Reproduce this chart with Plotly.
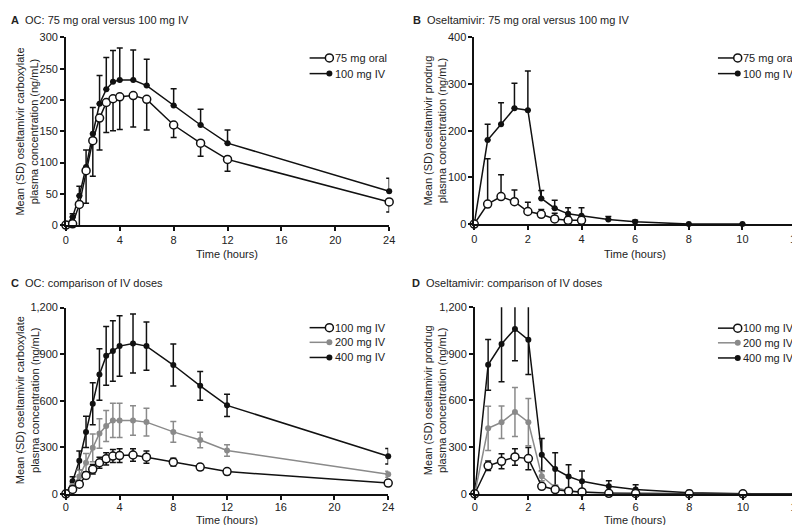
import plotly.graph_objects as go

# ---------------- data ----------------
t_A = [0, 0.5, 1, 1.5, 2, 2.5, 3, 3.5, 4, 5, 6, 8, 10, 12, 24]
A_oral = [0, 2, 33, 87, 135, 171, 196, 202, 205, 207, 201, 160, 131, 105, 37]
A_oral_sd = [0, 3, 40, 52, 57, 51, 48, 51, 52, 50, 49, 20, 21, 19, 16]
A_iv = [0, 13, 47, 93, 146, 194, 217, 229, 232, 232, 223, 191, 160, 131, 54]
A_iv_sd = [0, 5, 15, 27, 42, 45, 51, 50, 51, 48, 42, 27, 25, 21, 21]

t_B_oral = [0, 0.5, 1, 1.5, 2, 2.5, 3, 3.5, 4]
B_oral = [0, 43, 59, 48, 27, 21, 11, 8, 8]
B_oral_sd = [0, 97, 47, 25, 20, 10, 12, 8, 6]
t_B_iv = [0, 0.5, 1, 1.5, 2, 2.5, 3, 3.5, 4, 5, 6, 8, 10]
B_iv = [0, 180, 214, 248, 244, 55, 34, 22, 18, 10, 5, 0, 0]
B_iv_sd = [0, 34, 46, 54, 84, 17, 17, 13, 17, 6, 3, 0, 0]

t_C = [0, 0.5, 1, 1.5, 2, 2.5, 3, 3.5, 4, 5, 6, 8, 10, 12, 24]
C_100 = [0, 28, 62, 118, 158, 200, 225, 243, 246, 250, 236, 204, 172, 143, 69]
C_100_sd = [0, 10, 15, 20, 30, 35, 40, 42, 45, 40, 40, 25, 20, 18, 18]
C_200 = [0, 50, 111, 200, 296, 389, 437, 473, 473, 473, 462, 399, 347, 279, 126]
C_200_sd = [0, 15, 40, 60, 90, 95, 100, 110, 110, 95, 90, 67, 50, 37, 20]
C_400 = [0, 80, 213, 399, 580, 769, 889, 920, 952, 969, 952, 830, 696, 570, 242]
C_400_sd = [0, 30, 62, 100, 135, 166, 190, 195, 195, 190, 155, 135, 93, 72, 50]

t_D = [0, 0.5, 1, 1.5, 2, 2.5, 3, 3.5, 4, 5, 6, 8, 10, 12]
D_100 = [0, 180, 209, 237, 226, 48, 27, 17, 12, 3, 2, 0, 0, 0]
D_100_sd = [0, 31, 48, 53, 71, 12, 8, 6, 5, 2, 2, 0, 0, 0]
D_200 = [0, 421, 460, 526, 460, 113, 40, 20, 10, 5, 3, 0, 0, 0]
D_200_sd = [0, 142, 104, 157, 152, 30, 15, 8, 5, 3, 2, 0, 0, 0]
D_400 = [0, 829, 963, 1060, 990, 251, 159, 111, 80, 48, 27, 6, 0, 0]
D_400_sd = [0, 163, 243, 205, 223, 105, 105, 75, 66, 36, 31, 15, 0, 0]

panel_titles = ["OC: 75 mg oral versus 100 mg IV",
                "Oseltamivir: 75 mg oral versus 100 mg IV",
                "OC: comparison of IV doses",
                "Oseltamivir: comparison of IV doses"]
panel_letters = ["A", "B", "C", "D"]
ytitles = ["Mean (SD) oseltamivir carboxylate<br>plasma concentration (ng/mL)",
           "Mean (SD) oseltamivir prodrug<br>plasma concentration (ng/mL)",
           "Mean (SD) oseltamivir carboxylate<br>plasma concentration (ng/mL)",
           "Mean (SD) oseltamivir prodrug<br>plasma concentration (ng/mL)"]
xtitle = "Time (hours)"

# ---------------- style ----------------
W, H = 800, 525
FONT = "Arial, Liberation Sans, Helvetica, sans-serif"
TXT = "#222222"
BLACK = "#111111"
GRAY = "#8a8a8a"


def px(x):
    return x / W


def py(y):
    return 1 - y / H


def nz(v):
    return [s if s else None for s in v]


fig = go.Figure()


def add_series(t, y, up, down, ax, kind, color):
    if kind == "open":
        marker = dict(symbol="circle", size=8, color="white",
                      line=dict(color=color, width=1.5))
    else:
        marker = dict(symbol="circle", size=6, color=color,
                      line=dict(color=color, width=0))
    err = dict(type="data", symmetric=False,
               array=nz(up) if up is not None else [None] * len(t),
               arrayminus=nz(down) if down is not None else [None] * len(t),
               thickness=1.5, width=3, color=color, visible=True)
    fig.add_trace(go.Scatter(
        x=t, y=y, mode="lines+markers", line=dict(color=color, width=1.5),
        marker=marker, error_y=err, cliponaxis=False, showlegend=False,
        xaxis="x" + ax, yaxis="y" + ax, hoverinfo="skip"))


# panel A (IV upward, oral downward)
add_series(t_A, A_iv, A_iv_sd, None, "", "filled", BLACK)
add_series(t_A, A_oral, None, A_oral_sd, "", "open", BLACK)
# panel B
add_series(t_B_iv, B_iv, B_iv_sd, None, "2", "filled", BLACK)
add_series(t_B_oral, B_oral, B_oral_sd, None, "2", "open", BLACK)
# panel C
add_series(t_C, C_400, C_400_sd, C_400_sd, "3", "filled", BLACK)
add_series(t_C, C_200, C_200_sd, C_200_sd, "3", "filled", GRAY)
add_series(t_C, C_100, C_100_sd, C_100_sd, "3", "open", BLACK)
# panel D
add_series(t_D, D_400, D_400_sd, D_400_sd, "4", "filled", BLACK)
add_series(t_D, D_200, D_200_sd, D_200_sd, "4", "filled", GRAY)
add_series(t_D, D_100, D_100_sd, D_100_sd, "4", "open", BLACK)

# axes geometry (pixels)
panels = [
    dict(x0=55.5, x1=382.5, y0=24, y1=216, xr=[0, 24], xt=[0, 4, 8, 12, 16, 20, 24],
         yr=[0, 300], yt=[0, 50, 100, 150, 200, 250, 300], so=0),
    dict(x0=468.5, x1=794, y0=24, y1=215, xr=[0, 12], xt=[0, 2, 4, 6, 8, 10, 12],
         yr=[0, 400], yt=[0, 100, 200, 300, 400], so=0),
    dict(x0=55.5, x1=381.5, y0=300.5, y1=491, xr=[0, 24], xt=[0, 4, 8, 12, 16, 20, 24],
         yr=[0, 1200], yt=[0, 300, 600, 900, 1200], so=-2),
    dict(x0=469, x1=794.5, y0=300, y1=491, xr=[0, 12], xt=[0, 2, 4, 6, 8, 10, 12],
         yr=[0, 1200], yt=[0, 300, 600, 900, 1200], so=-2),
]

axcommon = dict(showline=True, linewidth=1.5, linecolor=BLACK, showgrid=False,
                zeroline=False, ticks="outside", ticklen=4, tickwidth=1.5,
                tickcolor=BLACK, tickfont=dict(family=FONT, size=11, color=TXT),
                fixedrange=True)

layout_axes = {}
for i, p in enumerate(panels):
    s = "" if i == 0 else str(i + 1)
    layout_axes["xaxis" + s] = dict(axcommon, domain=[px(p["x0"]), px(p["x1"])],
                                    range=p["xr"], tickvals=p["xt"],
                                    ticklabelstandoff=p["so"],
                                    anchor="y" + s)
    layout_axes["yaxis" + s] = dict(axcommon, domain=[py(p["y1"]), py(p["y0"])],
                                    range=p["yr"], tickvals=p["yt"],
                                    tickformat=",", anchor="x" + s)

annotations = []
shapes = []

TP = 4  # annotation internal padding (textpad + borderpad)

# panel titles
title_pos = [(2, 6), (409, 6), (2, 275), (408, 275)]
for (x, y), L, T in zip(title_pos, panel_letters, panel_titles):
    annotations.append(dict(text="<b>" + L + "</b>  " + T, x=px(x - TP), y=py(y),
                            xref="paper", yref="paper", xanchor="left",
                            yanchor="middle", showarrow=False,
                            font=dict(family=FONT, size=11, color=TXT)))

# x titles
xt_pos = [(218.5, 246), (631, 246), (218, 517.5), (631.5, 517.5)]
for x, y in xt_pos:
    annotations.append(dict(text=xtitle, x=px(x), y=py(y), xref="paper",
                            yref="paper", xanchor="center", yanchor="middle",
                            showarrow=False, borderpad=0,
                            font=dict(family=FONT, size=11, color=TXT)))

# y titles
yt_pos = [(16.5, 120), (429, 119), (16.5, 395), (429, 395)]
for (x, y), T in zip(yt_pos, ytitles):
    annotations.append(dict(text=T, x=px(x), y=py(y), xref="paper",
                            yref="paper", xanchor="center", yanchor="middle",
                            textangle=-90, showarrow=False,
                            font=dict(family=FONT, size=11, color=TXT)))

# legends (line sample with marker at right end)
legend_labels_AB = ["75 mg oral", "100 mg IV"]
legend_labels_CD = ["100 mg IV", "200 mg IV", "400 mg IV"]
leg_AB_style = [("open", BLACK), ("filled", BLACK)]
leg_CD_style = [("open", BLACK), ("filled", GRAY), ("filled", BLACK)]


def add_legend(xstart, rows, labels, styles):
    for y, lab, (kind, col) in zip(rows, labels, styles):
        xc = xstart + 20
        shapes.append(dict(type="line", xref="paper", yref="paper",
                           x0=px(xstart), x1=px(xc), y0=py(y), y1=py(y),
                           line=dict(color=col, width=1.5)))
        r = 4 if kind == "open" else 3
        shapes.append(dict(type="circle", xref="paper", yref="paper",
                           xsizemode="pixel", ysizemode="pixel",
                           xanchor=px(xc), yanchor=py(y),
                           x0=-r, x1=r, y0=-r, y1=r,
                           fillcolor="white" if kind == "open" else col,
                           line=dict(color=col, width=1.5 if kind == "open" else 0)))
        annotations.append(dict(text=lab, x=px(xc + 7.5 - TP), y=py(y), xref="paper",
                                yref="paper", xanchor="left", yanchor="middle",
                                showarrow=False,
                                font=dict(family=FONT, size=11, color=TXT)))


add_legend(302, [45, 61], legend_labels_AB, leg_AB_style)
add_legend(715, [45, 61], legend_labels_AB, leg_AB_style)
add_legend(302, [321, 336, 351.5], legend_labels_CD, leg_CD_style)
add_legend(715, [321.5, 336.5, 352], legend_labels_CD, leg_CD_style)

fig.update_layout(width=W, height=H, margin=dict(l=0, r=0, t=0, b=0),
                  paper_bgcolor="white", plot_bgcolor="white",
                  font=dict(family=FONT, size=11, color=TXT),
                  showlegend=False, annotations=annotations, shapes=shapes,
                  **layout_axes)

fig.write_html("out.html")
